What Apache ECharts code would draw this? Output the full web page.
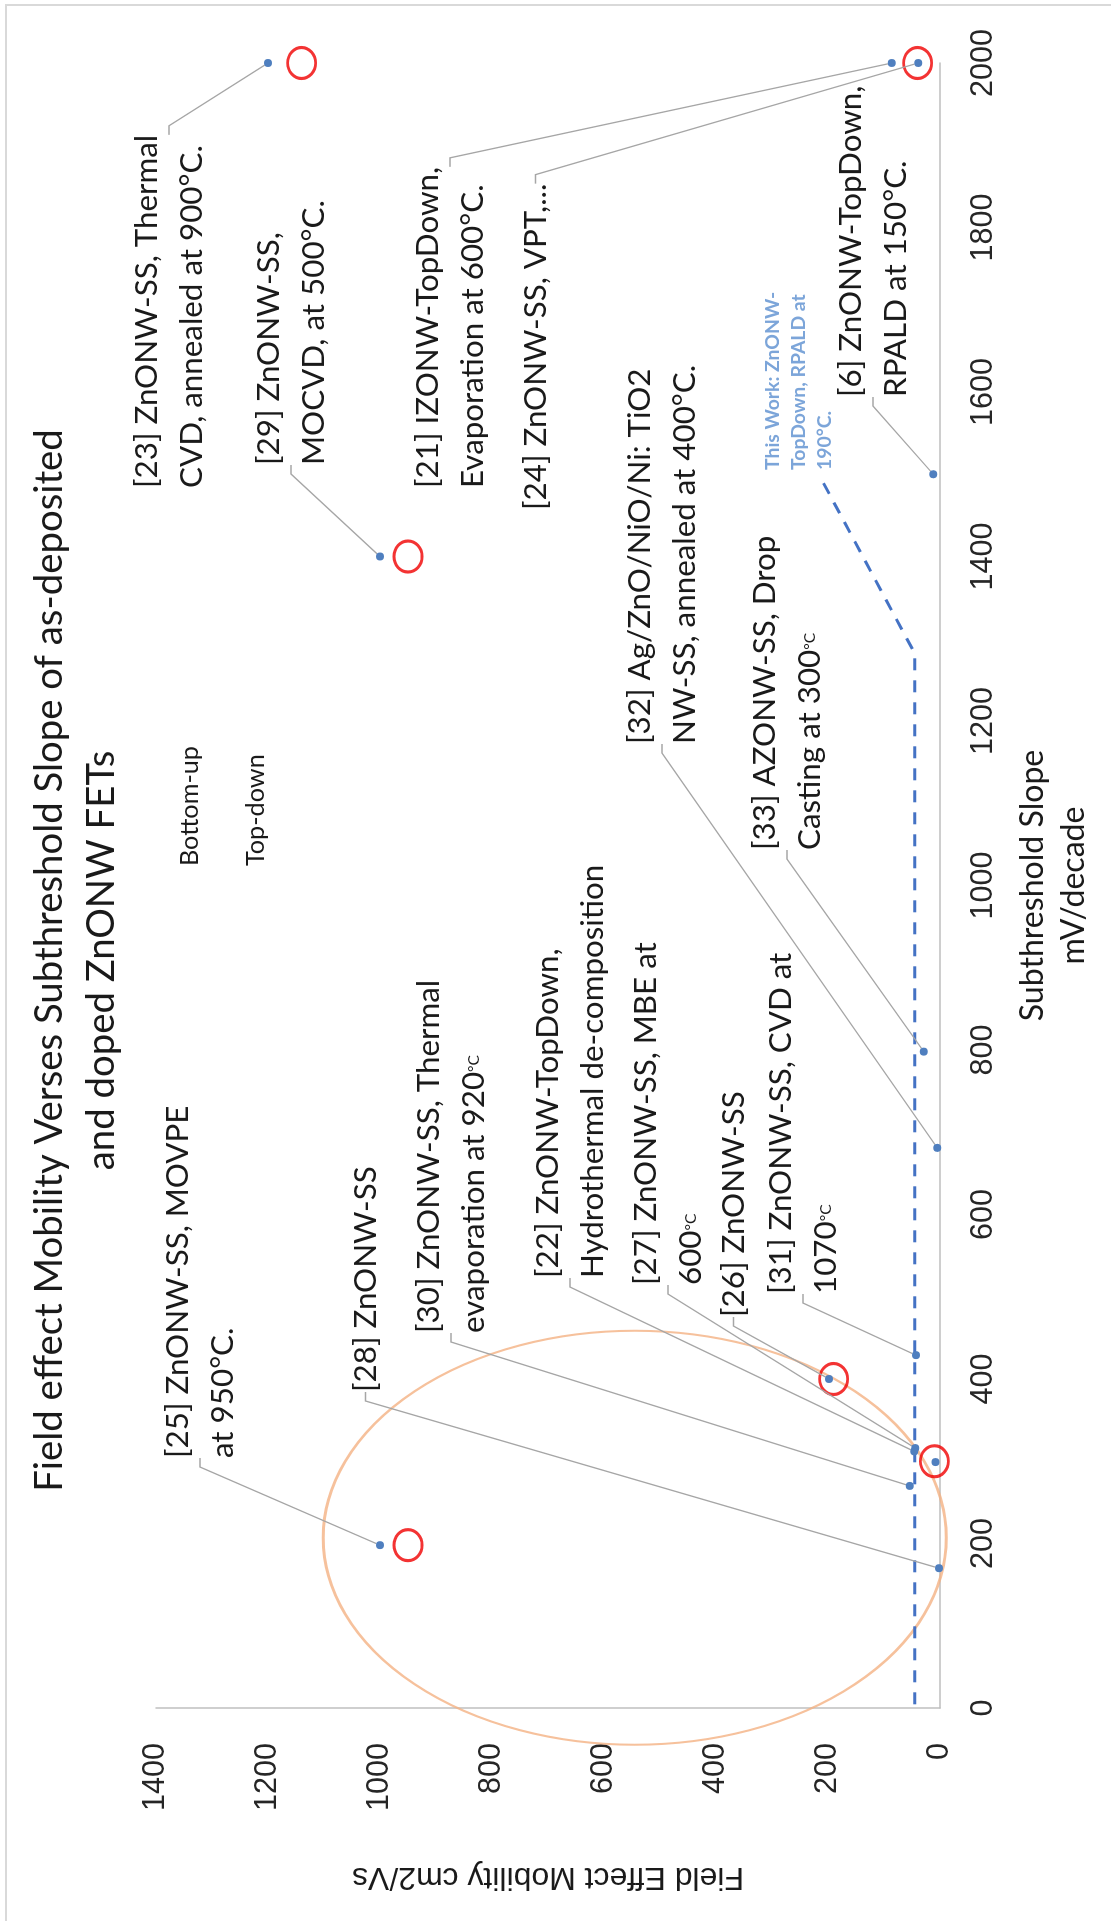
<!DOCTYPE html>
<html><head><meta charset="utf-8">
<script src="https://cdn.jsdelivr.net/npm/echarts@6/dist/echarts.min.js"></script>
<style>
html,body{margin:0;padding:0;background:#fff;width:1111px;height:1921px;overflow:hidden;}
#chart{position:absolute;left:0;top:0;width:1921px;height:1111px;transform-origin:0 0;transform:translate(0px,1921px) rotate(-90deg);}
</style></head><body><div id="chart"></div>
<script>
// ---- data ----
const refs     = ['[23]','[29]','[21]','[24]','[6]','[32]','[33]','[22]','[27]','[26]','[31]','[30]','[28]','[25]',''];
const slope    = [2000, 1400, 2000, 2000, 1500, 681, 798, 312, 316, 400, 429, 270, 170, 198, 299];
const mobility = [1200, 1000,   86,   39,   12,   5,  29,  46,  44, 198,  43,  54,   2,1000,   8];
const process  = ['Bottom-up','Bottom-up','Top-down','Bottom-up','Top-down','Bottom-up','Bottom-up','Top-down','Bottom-up','Bottom-up','Bottom-up','Bottom-up','Bottom-up','Bottom-up','Top-down'];
const notes = [
  '[23] ZnONW-SS, Thermal\nCVD, annealed at 900°C.',
  '[29] ZnONW-SS,\nMOCVD, at 500°C.',
  '[21] IZONW-TopDown,\nEvaporation at 600°C.',
  '[24] ZnONW-SS, VPT,...',
  '[6] ZnONW-TopDown,\nRPALD at 150°C.',
  '[32] Ag/ZnO/NiO/Ni: TiO2\nNW-SS, annealed at 400°C.',
  '[33] AZONW-SS, Drop\nCasting at 300{s|°C}',
  '[22] ZnONW-TopDown,\nHydrothermal de-composition',
  '[27] ZnONW-SS, MBE at\n600{s|°C}',
  '[26] ZnONW-SS',
  '[31] ZnONW-SS, CVD at\n1070{s|°C}',
  '[30] ZnONW-SS, Thermal\nevaporation at 920{s|°C}',
  '[28] ZnONW-SS',
  '[25] ZnONW-SS, MOVPE\nat 950°C.',
  ''
];
// red highlight circles
const circleSlope    = [2000, 1400, 198, 400, 300, 2000];
const circleMobility = [1140,  950, 950, 190,  10,   40];
// "This Work" dashed guide
const workSlope    = [-49, 1282, 1493];
const workMobility = [45, 45, 211];
const workNote = 'This Work: ZnONW-\nTopDown, RPALD at\n190°C.';
// orange ellipse centre (slope, mobility)
const ellipseCenter = [207, 545];
const groups = ['Bottom-up', 'Top-down'];
const xTitle = 'Subthreshold Slope\nmV/decade';
const yTitle = 'Field Effect Mobility cm2/Vs';
const chartTitle = 'Field effect Mobility Verses Subthreshold Slope of as-deposited\nand doped ZnONW FETs';

// ---- layout: label top-left anchors in chart pixels (unrotated frame) ----
const labelPos = {
  '[23]': [1433, 124], '[29]': [1456, 246], '[21]': [1433, 405], '[24]': [1411, 513],
  '[6]':  [1524, 828], '[32]': [1177, 617], '[33]': [1071, 742], '[22]': [643, 525],
  '[27]': [636, 623],  '[26]': [604, 711],  '[31]': [627, 758],  '[30]': [588, 406],
  '[28]': [529, 343],  '[25]': [463, 155]
};
const workLabelPos = [1451, 760];

const DOT = '#4F7FBF';
const TXT = '#1a1a1a';
const FONT = 'Lato';
const ARIAL = 'Liberation Sans';

// font sizes calibrated so the text widths match the picture
const ctx = document.createElement('canvas').getContext('2d');
function fit(text, family, weight, target) {
  ctx.font = weight + ' 100px "' + family + '"';
  return 100 * target / ctx.measureText(text).width;
}
const annSize = (fit('[21] IZONW-TopDown,', FONT, 'normal', 331) + fit('[32] Ag/ZnO/NiO/Ni: TiO2', FONT, 'normal', 369) + fit('[23] ZnONW-SS, Thermal', FONT, 'normal', 349)) / 3;
const titleSize = fit('Field effect Mobility Verses Subthreshold Slope of as-deposited', FONT, 'normal', 1063);
const axisNameSize = (fit('Subthreshold Slope', FONT, 'normal', 272) + fit('mV/decade', FONT, 'normal', 158)) / 2;
const yNameSize = fit(yTitle, ARIAL, 'normal', 392);
const tickSize = fit('1400', ARIAL, 'normal', 68);
const legendSize = fit('Bottom-up', FONT, 'normal', 120);
const workSize = fit('TopDown, RPALD at', FONT, 'bold', 176);

const chart = echarts.init(document.getElementById('chart'), null, {renderer: 'canvas'});

function groupSeries(g) {
  const idx = refs.map((_, i) => i).filter(i => process[i] === g);
  const items = idx.map(i => ({
    value: [slope[i], mobility[i]],
    name: refs[i],
    label: {show: !!notes[i], formatter: notes[i] || ''}
  }));
  return {
    name: g, type: 'scatter', symbol: 'circle', symbolSize: 8, z: 5,
    itemStyle: {color: DOT, opacity: 1},
    data: items,
    label: {
      show: true, fontFamily: FONT, fontSize: annSize, lineHeight: 45, color: TXT,
      align: 'left', verticalAlign: 'top',
      rich: {s: {fontFamily: FONT, fontSize: annSize * 0.5, lineHeight: 45, color: TXT}}
    },
    labelLine: {show: true, length2: 9, lineStyle: {color: '#A6A6A6', width: 1.3}},
    labelLayout: function (p) {
      const it = items[p.dataIndex];
      const pos = it && labelPos[it.name];
      if (!pos) return {};
      return {x: pos[0], y: pos[1], align: 'left', verticalAlign: 'top'};
    },
    emphasis: {disabled: true}
  };
}

const option = {
  animation: false,
  backgroundColor: '#ffffff',
  title: {
    text: chartTitle, left: 'center', top: 19,
    textStyle: {fontFamily: FONT, fontSize: titleSize, fontWeight: 'normal', lineHeight: 52, color: TXT}
  },
  legend: {
    orient: 'vertical', left: 1050, top: 175, padding: 0, itemWidth: 0, itemHeight: 0, itemGap: 36,
    selectedMode: false, data: groups,
    textStyle: {fontFamily: FONT, fontSize: legendSize, lineHeight: 30, color: TXT}
  },
  grid: {left: 213, right: 63, top: 156, bottom: 171, containLabel: false, outerBoundsMode: 'none'},
  xAxis: {
    type: 'value', min: 0, max: 2000, interval: 200,
    name: xTitle, nameLocation: 'middle', nameGap: 72,
    nameTextStyle: {fontFamily: FONT, fontSize: axisNameSize, lineHeight: 41, color: TXT},
    axisLine: {show: true, lineStyle: {color: '#BFBFBF', width: 1.5}},
    axisTick: {show: false}, splitLine: {show: false},
    axisLabel: {fontFamily: ARIAL, fontSize: tickSize, lineHeight: 30, margin: 29, color: '#262626',
                hideOverlap: false, formatter: v => String(v)}
  },
  yAxis: {
    type: 'value', min: 0, max: 1400, interval: 200,
    name: yTitle, nameLocation: 'middle', nameGap: 153, nameRotate: 90,
    nameTextStyle: {fontFamily: ARIAL, fontSize: yNameSize, color: TXT},
    axisLine: {show: true, lineStyle: {color: '#BFBFBF', width: 1.5}},
    axisTick: {show: false}, splitLine: {show: false},
    axisLabel: {fontFamily: ARIAL, fontSize: tickSize, margin: 35, color: '#262626',
                hideOverlap: false, formatter: v => String(v)}
  },
  graphic: [{
    type: 'rect', silent: true, z: -10,
    shape: {x: -10, y: 6, width: 1926, height: 1200},
    style: {fill: 'none', stroke: '#D9D9D9', lineWidth: 2}
  }],
  series: [
    {
      name: 'ellipse', type: 'scatter', silent: true, clip: false, z: 1,
      symbol: 'circle', symbolSize: [414, 623],
      itemStyle: {color: 'rgba(0,0,0,0)', borderColor: '#F4B183', borderWidth: 2.5},
      data: [ellipseCenter], emphasis: {disabled: true}
    },
    {
      name: 'work', type: 'line', silent: true, clip: false, z: 2, symbol: 'none',
      lineStyle: {color: '#4472C4', width: 3, type: [12, 10]},
      data: workSlope.map((s, i) => [s, workMobility[i]])
    },
    {
      name: 'workLabel', type: 'scatter', silent: true, clip: false, z: 2,
      symbolSize: 1, itemStyle: {color: 'rgba(0,0,0,0)'},
      data: [[workSlope[workSlope.length - 1], workMobility[workMobility.length - 1]]],
      label: {show: true, formatter: workNote, fontFamily: FONT, fontWeight: 'bold', fontSize: workSize, lineHeight: 26, color: '#5B8FD0', align: 'left', verticalAlign: 'top'},
      labelLayout: function () { return {x: workLabelPos[0], y: workLabelPos[1], align: 'left', verticalAlign: 'top'}; }
    },
    {
      name: 'highlight', type: 'scatter', silent: true, clip: false, z: 4,
      symbol: 'circle', symbolSize: [31, 28],
      itemStyle: {color: 'rgba(0,0,0,0)', borderColor: '#F00000', borderWidth: 3},
      data: circleSlope.map((s, i) => [s, circleMobility[i]]), emphasis: {disabled: true}
    },
    groupSeries(groups[0]),
    groupSeries(groups[1])
  ]
};
chart.setOption(option);
</script></body></html>
